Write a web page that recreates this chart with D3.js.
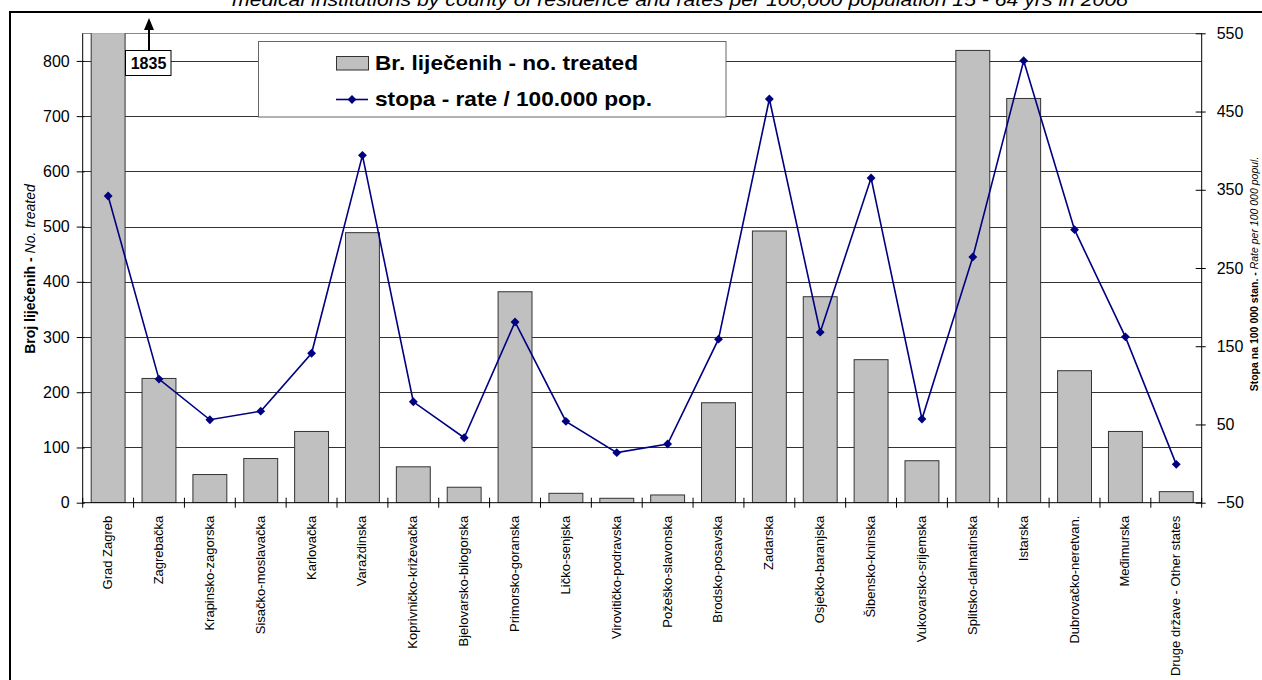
<!DOCTYPE html>
<html>
<head>
<meta charset="utf-8">
<script src="https://cdn.jsdelivr.net/npm/d3@7"></script>
<style>
  html, body { margin: 0; padding: 0; background: #fff; }
  svg { display: block; font-family: "Liberation Sans", Arial, sans-serif; }
</style>
</head>
<body>
<svg id="chart" width="1262" height="680"></svg>
<script>
const titleText = "medical institutions by county of residence and rates per 100,000 population 15 - 64 yrs in 2008";
const categories = ["Grad Zagreb","Zagrebačka","Krapinsko-zagorska","Sisačko-moslavačka","Karlovačka","Varaždinska","Koprivničko-križevačka","Bjelovarsko-bilogorska","Primorsko-goranska","Ličko-senjska","Virovitičko-podravska","Požeško-slavonska","Brodsko-posavska","Zadarska","Osječko-baranjska","Šibensko-kninska","Vukovarsko-srijemska","Splitsko-dalmatinska","Istarska","Dubrovačko-neretvan.","Međimurska","Druge države - Other states"];
const treated = [1835,225,51,80,129,489,65,28,382,17,8,14,181,492,373,259,76,819,732,239,129,20];
const rate = [342,108,56,67,141,394,79,33,181,54,14,25,159,466,168,365,57,264,515,299,162,-1];
const leftTicks = [0,100,200,300,400,500,600,700,800];
const rightTicks = [-50,50,150,250,350,450,550];
const leftDomain = [0,850];
const rightDomain = [-50,550];
const legendLabels = ["Br. liječenih - no. treated","stopa - rate / 100.000 pop."];
const annotationLabel = "1835";

const svg = d3.select("#chart");
const plot = {left: 82.7, right: 1201.7, top: 33.3, bottom: 502.7};

// outer frame
svg.append("rect").attr("x",10).attr("y",12).attr("width",1270).attr("height",700)
  .attr("fill","none").attr("stroke","#000").attr("stroke-width",2);

// title (cut at the top edge as in the original)
svg.append("text").attr("x",232).attr("y",6)
  .attr("font-size",18).attr("font-style","italic")
  .attr("textLength",896).attr("lengthAdjust","spacingAndGlyphs").text(titleText);

const x = d3.scaleBand().domain(categories).range([plot.left, plot.right])
  .paddingInner(1/3).paddingOuter(1/6);
const yL = d3.scaleLinear().domain(leftDomain).range([plot.bottom, plot.top]);
const yR = d3.scaleLinear().domain(rightDomain).range([plot.bottom, plot.top]);

// gridlines
const gridVals = leftTicks.slice(1).concat([leftDomain[1]]);
svg.append("g").selectAll("line").data(gridVals).join("line")
  .attr("x1",plot.left).attr("x2",plot.right)
  .attr("y1",d=>Math.round(yL(d))+0.5).attr("y2",d=>Math.round(yL(d))+0.5)
  .attr("stroke",d=>d===leftDomain[1]?"#888":"#333").attr("stroke-width",1);

// bars
svg.append("defs").append("clipPath").attr("id","plotclip").append("rect")
  .attr("x",plot.left).attr("y",plot.top).attr("width",plot.right-plot.left).attr("height",plot.bottom-plot.top);
svg.append("g").attr("clip-path","url(#plotclip)").selectAll("rect").data(categories).join("rect")
  .attr("x",d=>x(d)).attr("width",x.bandwidth())
  .attr("y",(d,i)=>yL(Math.min(treated[i], leftDomain[1]+5)))
  .attr("height",(d,i)=>yL(0)-yL(Math.min(treated[i], leftDomain[1]+5)))
  .attr("fill","#c0c0c0").attr("stroke","#333").attr("stroke-width",1);

// left axis
const gL = svg.append("g").attr("transform",`translate(${plot.left},0)`)
  .call(d3.axisLeft(yL).tickValues(leftTicks).tickSize(6).tickPadding(7));
gL.select(".domain").remove();
gL.append("line").attr("x1",0).attr("x2",0).attr("y1",plot.top).attr("y2",plot.bottom).attr("stroke","#000");
gL.selectAll(".tick line").attr("x2",-6).attr("x1",2).attr("stroke","#000");
gL.selectAll(".tick text").attr("font-size",16).attr("font-family","Liberation Sans, Arial, sans-serif").attr("fill","#000");

// right axis
const gR = svg.append("g").attr("transform",`translate(${plot.right},0)`)
  .call(d3.axisRight(yR).tickValues(rightTicks).tickSize(6).tickPadding(9));
gR.select(".domain").remove();
gR.append("line").attr("x1",0).attr("x2",0).attr("y1",plot.top).attr("y2",plot.bottom).attr("stroke","#000");
gR.selectAll(".tick line").attr("x1",-6).attr("x2",4).attr("stroke","#000");
gR.selectAll(".tick text").attr("font-size",16).attr("font-family","Liberation Sans, Arial, sans-serif").attr("fill","#000");

// x axis
const gX = svg.append("g");
gX.append("line").attr("x1",plot.left).attr("x2",plot.right).attr("y1",plot.bottom).attr("y2",plot.bottom).attr("stroke","#000");
const bounds = d3.range(categories.length+1).map(i=>plot.left + i*x.step());
gX.selectAll("line.t").data(bounds).join("line").attr("class","t")
  .attr("x1",d=>d).attr("x2",d=>d).attr("y1",plot.bottom-5).attr("y2",plot.bottom+5).attr("stroke","#000");
gX.selectAll("text").data(categories).join("text")
  .attr("transform",d=>`translate(${x(d)+x.bandwidth()/2+4},${plot.bottom+13}) rotate(-90)`)
  .attr("text-anchor","end").attr("font-size",13).text(d=>d);

// line
const cx = d=>x(d)+x.bandwidth()/2;
svg.append("path").datum(categories)
  .attr("d", d3.line().x(d=>cx(d)).y((d,i)=>yR(rate[i])))
  .attr("fill","none").attr("stroke","#000080").attr("stroke-width",1.6);
const diamond = d3.symbol().type(d3.symbolDiamond2).size(50);
svg.append("g").selectAll("path").data(categories).join("path")
  .attr("transform",(d,i)=>`translate(${cx(d)},${yR(rate[i])})`)
  .attr("d",diamond).attr("fill","#000080");

// axis titles
const tl = svg.append("text").attr("transform",`translate(35,269) rotate(-90)`)
  .attr("text-anchor","middle").attr("font-size",14);
tl.append("tspan").attr("font-weight","bold").text("Broj liječenih - ");
tl.append("tspan").attr("font-style","italic").text("No. treated");
const tr = svg.append("text").attr("transform",`translate(1258,274) rotate(-90)`)
  .attr("text-anchor","middle").attr("font-size",10.5);
tr.append("tspan").attr("font-weight","bold").text("Stopa na 100 000 stan. - ");
tr.append("tspan").attr("font-style","italic").text("Rate per 100 000 popul.");

// legend
const lg = svg.append("g");
lg.append("rect").attr("x",258.5).attr("y",41.5).attr("width",467.5).attr("height",75.5)
  .attr("fill","#fff").attr("stroke","#666").attr("stroke-width",1);
lg.append("rect").attr("x",336.5).attr("y",56.5).attr("width",32).attr("height",13.5)
  .attr("fill","#c0c0c0").attr("stroke","#333");
lg.append("text").attr("x",375).attr("y",69.5).attr("font-size",21).attr("font-weight","bold")
  .attr("textLength",263).attr("lengthAdjust","spacingAndGlyphs").text(legendLabels[0]);
lg.append("line").attr("x1",336).attr("x2",368).attr("y1",99.5).attr("y2",99.5).attr("stroke","#000080").attr("stroke-width",1.6);
lg.append("path").attr("transform","translate(352,99.5)").attr("d",diamond).attr("fill","#000080");
lg.append("text").attr("x",375).attr("y",106).attr("font-size",21).attr("font-weight","bold")
  .attr("textLength",277).attr("lengthAdjust","spacingAndGlyphs").text(legendLabels[1]);

// annotation for clipped bar
const ann = svg.append("g");
ann.append("line").attr("x1",149).attr("x2",149).attr("y1",50).attr("y2",28).attr("stroke","#000").attr("stroke-width",2);
ann.append("path").attr("d","M149,18 L144,30 L154,30 Z").attr("fill","#000");
ann.append("rect").attr("x",125.5).attr("y",50.5).attr("width",45.5).attr("height",25)
  .attr("fill","#fff").attr("stroke","#000").attr("stroke-width",1);
ann.append("text").attr("x",148.5).attr("y",69).attr("text-anchor","middle")
  .attr("font-size",16).attr("font-weight","bold").text(annotationLabel);
</script>
</body>
</html>
